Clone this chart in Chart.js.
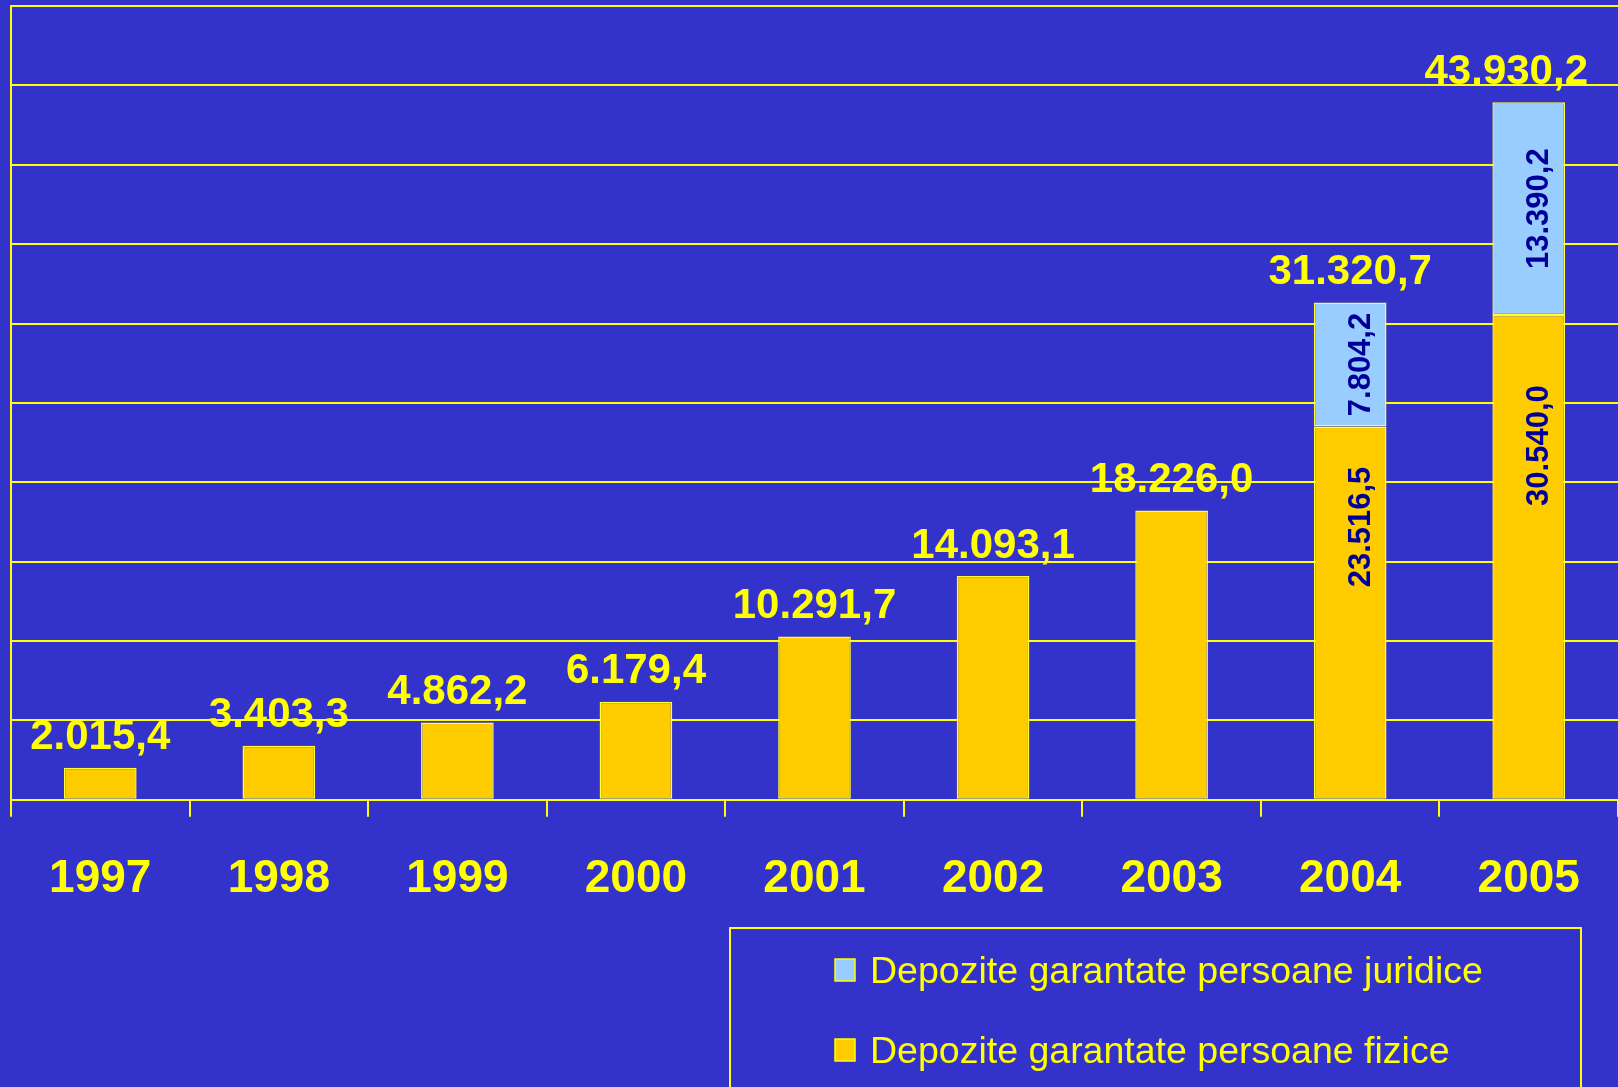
<!DOCTYPE html>
<html>
<head>
<meta charset="utf-8">
<script src="https://cdn.jsdelivr.net/npm/chart.js@4/dist/chart.umd.min.js"></script>
<style>
  html, body { margin: 0; padding: 0; background: #3333cc; overflow: hidden; }
  #wrap { width: 1618px; height: 1087px; position: relative; }
</style>
</head>
<body>
<div id="wrap"><canvas id="chart"></canvas></div>
<script>
// DATE
const years = ["1997", "1998", "1999", "2000", "2001", "2002", "2003", "2004", "2005"];
const fizice = [2015.4, 3403.3, 4862.2, 6179.4, 10291.7, 14093.1, 18226.0, 23516.5, 30540.0];
const juridice = [null, null, null, null, null, null, null, 7804.2, 13390.2];

const labelFizice = "Depozite garantate persoane fizice";
const labelJuridice = "Depozite garantate persoane juridice";

const YELLOW = "#ffff00";
const FONT = "'Liberation Sans', Arial, sans-serif";

// format ro: 2.015,4
function formatRo(v) {
  const [int, dec] = v.toFixed(1).split(".");
  return int.replace(/\B(?=(\d{3})+(?!\d))/g, ".") + "," + dec;
}

// etichete: totaluri deasupra, valori interne rotite
const labelsPlugin = {
  id: "labels",
  afterDatasetsDraw(chart) {
    const ctx = chart.ctx;
    const metas = chart.data.datasets.map((_, i) => chart.getDatasetMeta(i));
    ctx.save();
    ctx.textAlign = "center";
    ctx.textBaseline = "middle";

    years.forEach((y, i) => {
      const stacked = chart.data.datasets.filter((d) => d.data[i] != null);
      const total = stacked.reduce((s, d) => s + d.data[i], 0);
      const topBar = metas[stacked.length - 1].data[i];
      const text = formatRo(total);
      ctx.fillStyle = YELLOW;
      ctx.font = "bold 42px " + FONT;
      // nu lasa eticheta sa iasa din desen
      const half = ctx.measureText(text).width / 2;
      const x = Math.min(topBar.x, chart.width - 30 - half);
      ctx.fillText(text, x, topBar.y - 30);

      // valori interne doar unde exista ambele serii
      if (stacked.length > 1) {
        chart.data.datasets.forEach((d, di) => {
          const bar = metas[di].data[i];
          const h = bar.base - bar.y;
          const cy = bar.y + h * d.labelAnchor;
          ctx.save();
          ctx.translate(bar.x + 11, cy);
          ctx.rotate(-Math.PI / 2);
          ctx.fillStyle = "#000099";
          ctx.font = "bold 31px " + FONT;
          ctx.fillText(formatRo(d.data[i]), 0, 0);
          ctx.restore();
        });
      }
    });
    ctx.restore();
  },
};

// legenda cu chenar
const legendPlugin = {
  id: "boxLegend",
  afterDraw(chart) {
    const ctx = chart.ctx;
    ctx.save();
    ctx.strokeStyle = YELLOW;
    ctx.lineWidth = 2;
    ctx.strokeRect(730, 928, 851, 200);

    const items = chart.data.datasets.slice().reverse();
    items.forEach((d, i) => {
      const cy = 970 + i * 80;
      ctx.fillStyle = d.backgroundColor;
      ctx.fillRect(835, cy - 11, 20, 22);
      ctx.strokeStyle = YELLOW;
      ctx.lineWidth = 1.5;
      ctx.strokeRect(835, cy - 11, 20, 22);

      ctx.fillStyle = YELLOW;
      ctx.font = "37.5px " + FONT;
      ctx.textBaseline = "alphabetic";
      ctx.textAlign = "left";
      ctx.fillText(d.label, 870, cy + 13);
    });
    ctx.restore();
  },
};

new Chart(document.getElementById("chart"), {
  type: "bar",
  data: {
    labels: years,
    datasets: [
      {
        label: labelFizice,
        data: fizice,
        backgroundColor: "#ffcc00",
        borderColor: "#ffff33",
        borderWidth: 1.5,
        borderSkipped: false,
        labelAnchor: 0.27,
      },
      {
        label: labelJuridice,
        data: juridice,
        backgroundColor: "#99ccff",
        borderColor: "#ffff33",
        borderWidth: 1.5,
        borderSkipped: false,
        labelAnchor: 0.5,
      },
    ],
  },
  options: {
    responsive: true,
    maintainAspectRatio: false,
    animation: false,
    categoryPercentage: 1,
    barPercentage: 0.407,
    layout: { padding: { left: 11, right: 0, top: 6, bottom: 145 } },
    plugins: {
      legend: { display: false },
      tooltip: { enabled: false },
    },
    scales: {
      x: {
        stacked: true,
        grid: {
          display: true,
          drawOnChartArea: false,
          drawTicks: true,
          tickLength: 17,
          color: YELLOW,
          lineWidth: 2,
          offset: true,
        },
        border: { display: true, color: YELLOW, width: 2 },
        ticks: {
          color: YELLOW,
          padding: 35,
          font: { family: FONT, size: 46, weight: "bold" },
        },
      },
      y: {
        stacked: true,
        min: 0,
        max: 50000,
        ticks: { display: false, stepSize: 5000 },
        grid: { color: YELLOW, lineWidth: 2, drawTicks: false },
        border: { display: true, color: YELLOW, width: 2 },
      },
    },
  },
  plugins: [labelsPlugin, legendPlugin],
});
</script>
</body>
</html>
